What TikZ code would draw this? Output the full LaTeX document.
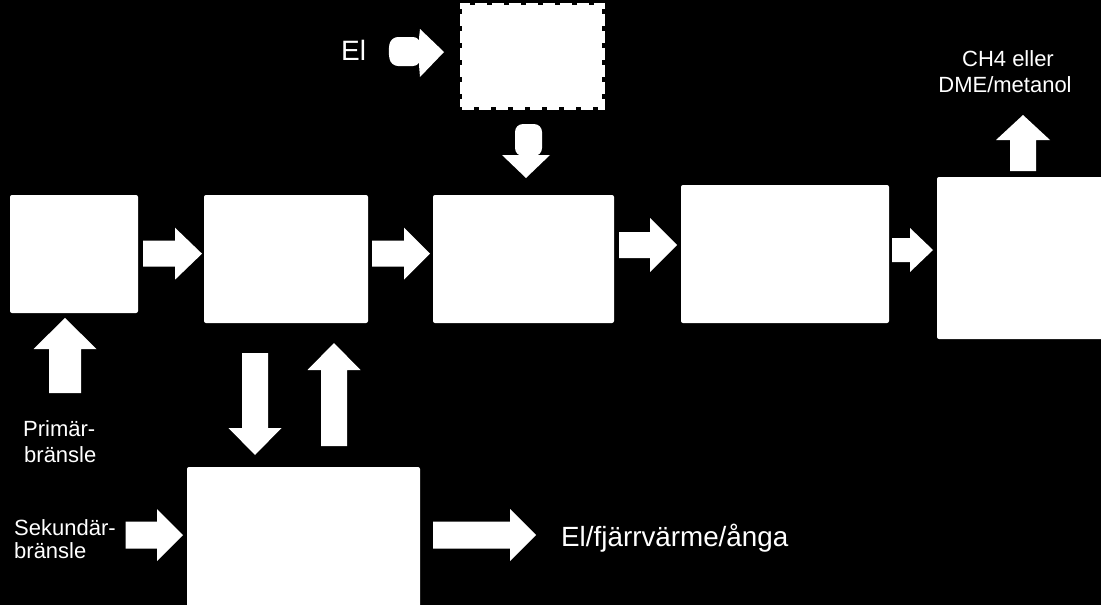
\documentclass[tikz,border=0pt]{standalone}
\usepackage{fontspec}
\setmainfont{Liberation Sans}
\newcommand\hblockarrow[6]{% x-start, head-base x, tip x, yc, shaft half, head half
  \fill[white] (#1,#4-#5) -- (#2,#4-#5) -- (#2,#4-#6) -- (#3,#4) -- (#2,#4+#6) -- (#2,#4+#5) -- (#1,#4+#5) -- cycle;}
\newcommand\vblockarrow[6]{% y-start, head-base y, tip y, xc, shaft half, head half
  \fill[white] (#4-#5,#1) -- (#4-#5,#2) -- (#4-#6,#2) -- (#4,#3) -- (#4+#6,#2) -- (#4+#5,#2) -- (#4+#5,#1) -- cycle;}
\tikzset{
  box/.style={fill=white, rounded corners=2pt, inner sep=0pt, draw=none},
  lbl/.style={text=white, inner sep=0pt, font=\fontsize{22}{26}\selectfont},
}
\begin{document}
\begin{tikzpicture}[x=1pt,y=-1pt]
\fill[black] (0,0) rectangle (1101,605);
\useasboundingbox (0,0) rectangle (1101,605);
\clip (0,0) rectangle (1101,605);
% boxes
\node[box, minimum width=128pt, minimum height=118pt] (b1) at (74,254) {};
\node[box, minimum width=164pt, minimum height=128pt] (b2) at (286,259) {};
\node[box, minimum width=181pt, minimum height=128pt] (b3) at (523.5,259) {};
\node[box, minimum width=208pt, minimum height=138pt] (b4) at (785,254) {};
\node[box, minimum width=175pt, minimum height=162pt] (b5) at (1024.5,258) {};
\node[box, minimum width=233pt, minimum height=150pt] (b6) at (303.5,542) {};
\node[fill=white, draw=white, line width=5pt, dash pattern=on 12pt off 5pt,
      minimum width=140pt, minimum height=102pt, inner sep=0pt] (el) at (532,56) {};
% horizontal arrows
\hblockarrow{143}{175}{202}{253.7}{13}{26}
\hblockarrow{372}{404}{430}{253.7}{13}{26}
\hblockarrow{619}{650}{677}{245}{13}{27}
\hblockarrow{892}{910}{933}{250}{12}{22}
\hblockarrow{125.5}{157}{183}{535}{13.5}{26}
\hblockarrow{433}{510}{536}{535}{13.5}{26}
% El arrow (blobby shaft)
\fill[white, rounded corners=7pt] (420,37) -- (391,37) -- (388,51) -- (391,66) -- (420,66) -- cycle;
\fill[white] (419,38) -- (420,29) -- (444,52) -- (420,77) -- (419,65) -- cycle;
% vertical arrows
\vblockarrow{393}{349}{318}{65}{16}{31.5}
\vblockarrow{353}{428}{455}{255}{13}{26.5}
\vblockarrow{446}{370}{343}{334}{13}{26.5}
\vblockarrow{171}{140}{115}{1023}{13}{27}
\fill[white, rounded corners=8pt] (515,156) -- (515,124) -- (542,124) -- (542,156) -- cycle;
\fill[white] (502,155) -- (526,178) -- (550,155) -- cycle;
% labels
\node[lbl, anchor=base west, font=\fontsize{28}{32}\selectfont] (tel) at (341,60) {El};
\node[lbl, anchor=base] (tch4) at (1008,66) {CH4 eller};
\node[lbl, anchor=base] (tdme) at (1005,92) {DME/metanol};
\node[lbl, anchor=base west] (tp1) at (23,436) {Primär-};
\node[lbl, anchor=base west] (tp2) at (24,462) {bränsle};
\node[lbl, anchor=base west] (ts1) at (14,535) {Sekundär-};
\node[lbl, anchor=base west] (ts2) at (14,558) {bränsle};
\node[lbl, anchor=base west, font=\fontsize{27.8}{31}\selectfont] (tout) at (561,546) {El/fjärrvärme/ånga};
\end{tikzpicture}
\end{document}
